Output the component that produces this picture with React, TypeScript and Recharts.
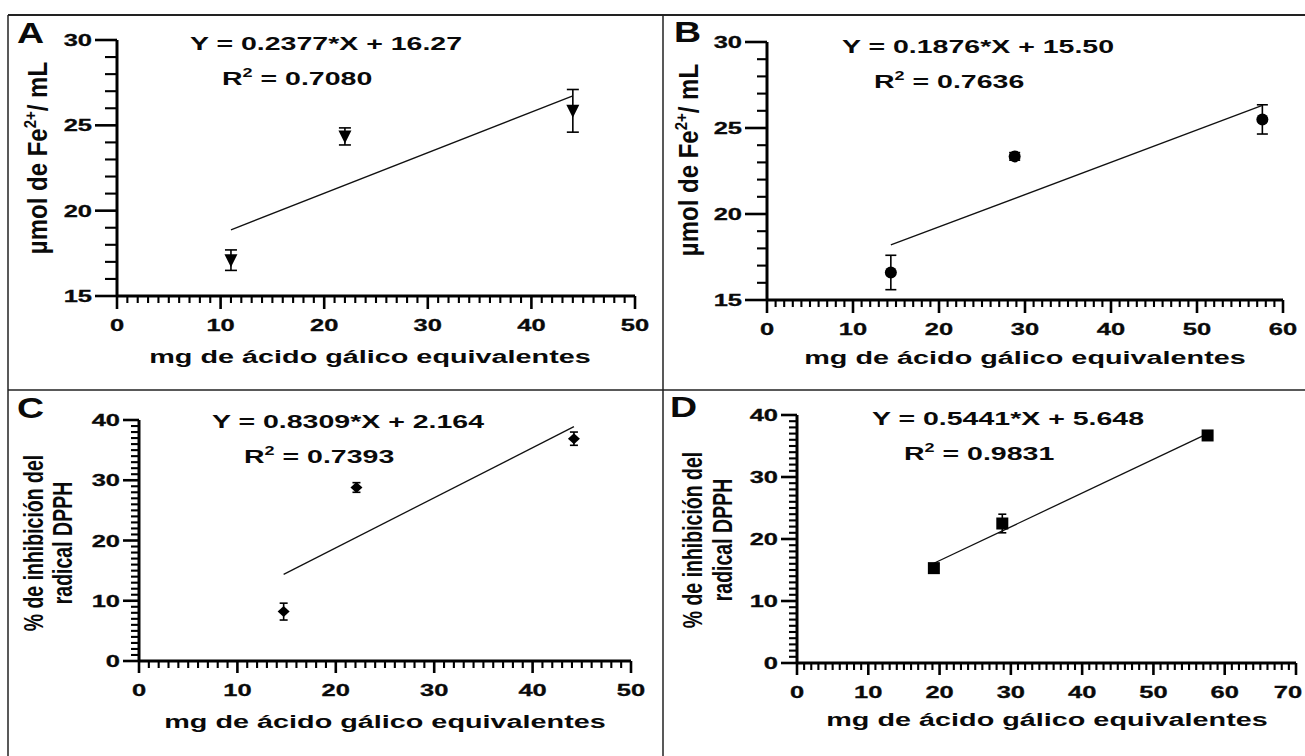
import React from 'react'
import { ScatterChart, Scatter, XAxis, YAxis, ErrorBar } from 'recharts'

// A: FRAP (triangulos)
const xA = [11, 22, 44]
const yA = [17.1, 24.35, 25.85]
const errA = [0.6, 0.5, 1.25]
const fitXA = [11, 44]
const fitYA = [18.88, 26.73]

// B: FRAP (circulos)
const xB = [14.4, 28.8, 57.6]
const yB = [16.6, 23.35, 25.5]
const errB = [1.0, 0.22, 0.85]
const fitXB = [14.4, 57.6]
const fitYB = [18.2, 26.31]

// C: DPPH (rombos)
const xC = [14.7, 22.1, 44.2]
const yC = [8.2, 28.8, 36.9]
const errC = [1.4, 0.8, 1.1]
const fitXC = [14.7, 44.2]
const fitYC = [14.38, 38.89]

// D: DPPH (cuadrados)
const xD = [19.2, 28.8, 57.6]
const yD = [15.3, 22.5, 36.7]
const errD = [0.3, 1.5, 0.3]
const fitXD = [19.2, 57.6]
const fitYD = [16.09, 36.99]

const eqA = ['Y = 0.2377*X + 16.27', '0.7080']
const eqB = ['Y = 0.1876*X + 15.50', '0.7636']
const eqC = ['Y = 0.8309*X + 2.164', '0.7393']
const eqD = ['Y = 0.5441*X + 5.648', '0.9831']

const xTitle = 'mg de ácido gálico equivalentes'
const FONT = '"Liberation Sans", Arial, sans-serif'
const INK = '#0a0a0a'

const zip = (xs: number[], ys: number[], es?: number[]) =>
  xs.map((x, i) => ({ x, y: ys[i], e: es ? es[i] : 0 }))

const range = (a: number, b: number) => {
  const r: number[] = []
  for (let v = a; v <= b; v++) r.push(v)
  return r
}

const TriDown = ({ cx, cy }: any) => (
  <polygon points={`${cx - 6.5},${cy - 6} ${cx + 6.5},${cy - 6} ${cx},${cy + 7}`} fill="#000" />
)
const Dot = ({ cx, cy }: any) => <circle cx={cx} cy={cy} r={6} fill="#000" />
const Diamond = ({ cx, cy }: any) => (
  <polygon points={`${cx - 6},${cy} ${cx},${cy - 5.5} ${cx + 6},${cy} ${cx},${cy + 5.5}`} fill="#000" />
)
const Square = ({ cx, cy }: any) => <rect x={cx - 6} y={cy - 6} width={12} height={12} fill="#000" />

function XTick({ x, y, payload, step, maj, min, last, shift }: any) {
  const v = payload.value
  const major = v % step === 0
  const tx = v === last ? x - shift : x
  return (
    <g>
      <line x1={x} x2={x} y1={y} y2={y + (major ? maj : min)} stroke="#000" strokeWidth={major ? 2.6 : 2.1} />
      {major && (
        <text transform={`translate(${tx},${y + 35}) scale(1.5,1)`} textAnchor="middle" fontFamily={FONT}
          fontWeight="bold" fontSize={17} fill={INK} stroke={INK} strokeWidth={0.3}>{v}</text>
      )}
    </g>
  )
}

function YTick({ x, y, payload, step, maj, min }: any) {
  const v = payload.value
  const major = v % step === 0
  return (
    <g>
      <line x1={x - (major ? maj : min)} x2={x} y1={y} y2={y} stroke="#000" strokeWidth={major ? 2.6 : 2.1} />
      {major && (
        <text transform={`translate(${x - maj - 3},${y}) scale(1.5,1)`} textAnchor="end" dy="0.36em" fontFamily={FONT}
          fontWeight="bold" fontSize={17} fill={INK} stroke={INK} strokeWidth={0.3}>{v}</text>
      )}
    </g>
  )
}

function Panel({ c }: any) {
  const ML = 80, MT = 20, MR = 40, MB = 60
  const W = c.pw + ML + MR
  const H = c.ph + MT + MB
  return (
    <div style={{ position: 'absolute', left: c.left - ML, top: c.top - MT }}>
      <ScatterChart width={W} height={H} margin={{ top: MT, right: MR, bottom: 0, left: 0 }}>
        <XAxis type="number" dataKey="x" domain={[0, c.xMax]} ticks={range(0, c.xMax)} interval={0}
          height={MB} tickSize={0} tickMargin={0} tickLine={false} stroke="#000" axisLine={{ stroke: '#000', strokeWidth: 3 }} allowDataOverflow
          tick={(p: any) => <XTick {...p} step={10} maj={c.xMaj} min={c.xMin} last={c.xMax} shift={c.lastShift} />} />
        <YAxis type="number" dataKey="y" domain={[c.yLo, c.yHi]} ticks={range(c.yLo, c.yHi)} interval={0}
          width={ML} tickSize={0} tickMargin={0} tickLine={false} stroke="#000" axisLine={{ stroke: '#000', strokeWidth: 3 }} allowDataOverflow
          tick={(p: any) => <YTick {...p} step={c.yStep} maj={c.yMaj} min={c.yMin} />} />
        <Scatter data={c.fit} line={{ stroke: '#111', strokeWidth: 1.3 }} shape={() => <g />}
          isAnimationActive={false} />
        <Scatter data={c.pts} shape={c.shape} isAnimationActive={false}>
          <ErrorBar dataKey="e" direction="y" width={c.cap} stroke="#000" strokeWidth={1.6} isAnimationActive={false} />
        </Scatter>
      </ScatterChart>
    </div>
  )
}

const panels = [
  { left: 117, top: 40, pw: 518, ph: 256, xMax: 50, yLo: 15, yHi: 30, yStep: 5, yMaj: 22, yMin: 12, xMaj: 13, xMin: 7,
    pts: zip(xA, yA, errA), fit: zip(fitXA, fitYA), shape: TriDown, cap: 6, lastShift: 0 },
  { left: 767, top: 42, pw: 516, ph: 258, xMax: 60, yLo: 15, yHi: 30, yStep: 5, yMaj: 22, yMin: 10, xMaj: 13, xMin: 7,
    pts: zip(xB, yB, errB), fit: zip(fitXB, fitYB), shape: Dot, cap: 5.5, lastShift: 0 },
  { left: 139, top: 420, pw: 492, ph: 241, xMax: 50, yLo: 0, yHi: 40, yStep: 10, yMaj: 16, yMin: 8, xMaj: 12, xMin: 7,
    pts: zip(xC, yC, errC), fit: zip(fitXC, fitYC), shape: Diamond, cap: 4, lastShift: 0 },
  { left: 797, top: 415, pw: 499, ph: 248, xMax: 70, yLo: 0, yHi: 40, yStep: 10, yMaj: 16, yMin: 8, xMaj: 12, xMin: 7,
    pts: zip(xD, yD, errD), fit: zip(fitXD, fitYD), shape: Square, cap: 4, lastShift: 8 },
]

const T = ({ x, y, sx = 1.5, size = 19, anchor = 'start', children }: any) => (
  <text transform={`translate(${x},${y}) scale(${sx},1)`} textAnchor={anchor} fontFamily={FONT}
    fontWeight="bold" fontSize={size} fill={INK} style={{ whiteSpace: 'pre' }}>{children}</text>
)

const Eq = ({ x, y, eq }: any) => (
  <>
    <T x={x} y={y}>{eq[0]}</T>
    <T x={x + 32} y={y + 35}>R<tspan dy={-8} fontSize={12}>2</tspan><tspan dy={8}>{' = ' + eq[1]}</tspan></T>
  </>
)

const YT = ({ x, y, size, sy, children }: any) => (
  <text transform={`translate(${x},${y}) rotate(-90) scale(1,${sy})`} textAnchor="middle" fontFamily={FONT}
    fontWeight="bold" fontSize={size} fill={INK}>{children}</text>
)

export default function App() {
  return (
    <div style={{ position: 'absolute', left: 0, top: 0, width: 1305, height: 756, background: '#fff', overflow: 'hidden' }}>
      {panels.map((c, i) => <Panel key={i} c={c} />)}
      <svg width={1305} height={756} style={{ position: 'absolute', left: 0, top: 0, pointerEvents: 'none' }}>
        <line x1={8} x2={1305} y1={15} y2={15} stroke="#222" strokeWidth={2} />
        <line x1={8} x2={8} y1={15} y2={756} stroke="#222" strokeWidth={1.5} />
        <line x1={663} x2={663} y1={15} y2={756} stroke="#222" strokeWidth={1.5} />
        <line x1={8} x2={1305} y1={390} y2={390} stroke="#222" strokeWidth={1.5} />

        <T x={17} y={43} size={30} sx={1.25}>A</T>
        <T x={674} y={42} size={30} sx={1.25}>B</T>
        <T x={17} y={418} size={30} sx={1.25}>C</T>
        <T x={670} y={417} size={30} sx={1.25}>D</T>

        <Eq x={190} y={50} eq={eqA} />
        <Eq x={842} y={53} eq={eqB} />
        <Eq x={212} y={428} eq={eqC} />
        <Eq x={872} y={425} eq={eqD} />

        <T x={370} y={363} size={18} sx={1.6} anchor="middle">{xTitle}</T>
        <T x={1025} y={364} size={18} sx={1.6} anchor="middle">{xTitle}</T>
        <T x={385} y={728} size={18} sx={1.6} anchor="middle">{xTitle}</T>
        <T x={1047} y={726} size={18} sx={1.6} anchor="middle">{xTitle}</T>

        <YT x={47} y={158} size={24} sy={1.15}>µmol de Fe<tspan dy={-10} fontSize={15}>2+</tspan><tspan dy={10}>/ mL</tspan></YT>
        <YT x={698} y={160} size={24} sy={1.15}>µmol de Fe<tspan dy={-10} fontSize={15}>2+</tspan><tspan dy={10}>/ mL</tspan></YT>
        <YT x={43} y={543} size={19.5} sy={1.4}>% de inhibición del</YT>
        <YT x={72} y={543} size={19.5} sy={1.4}>radical DPPH</YT>
        <YT x={702} y={540} size={19.5} sy={1.4}>% de inhibición del</YT>
        <YT x={732} y={540} size={19.5} sy={1.4}>radical DPPH</YT>
      </svg>
    </div>
  )
}
